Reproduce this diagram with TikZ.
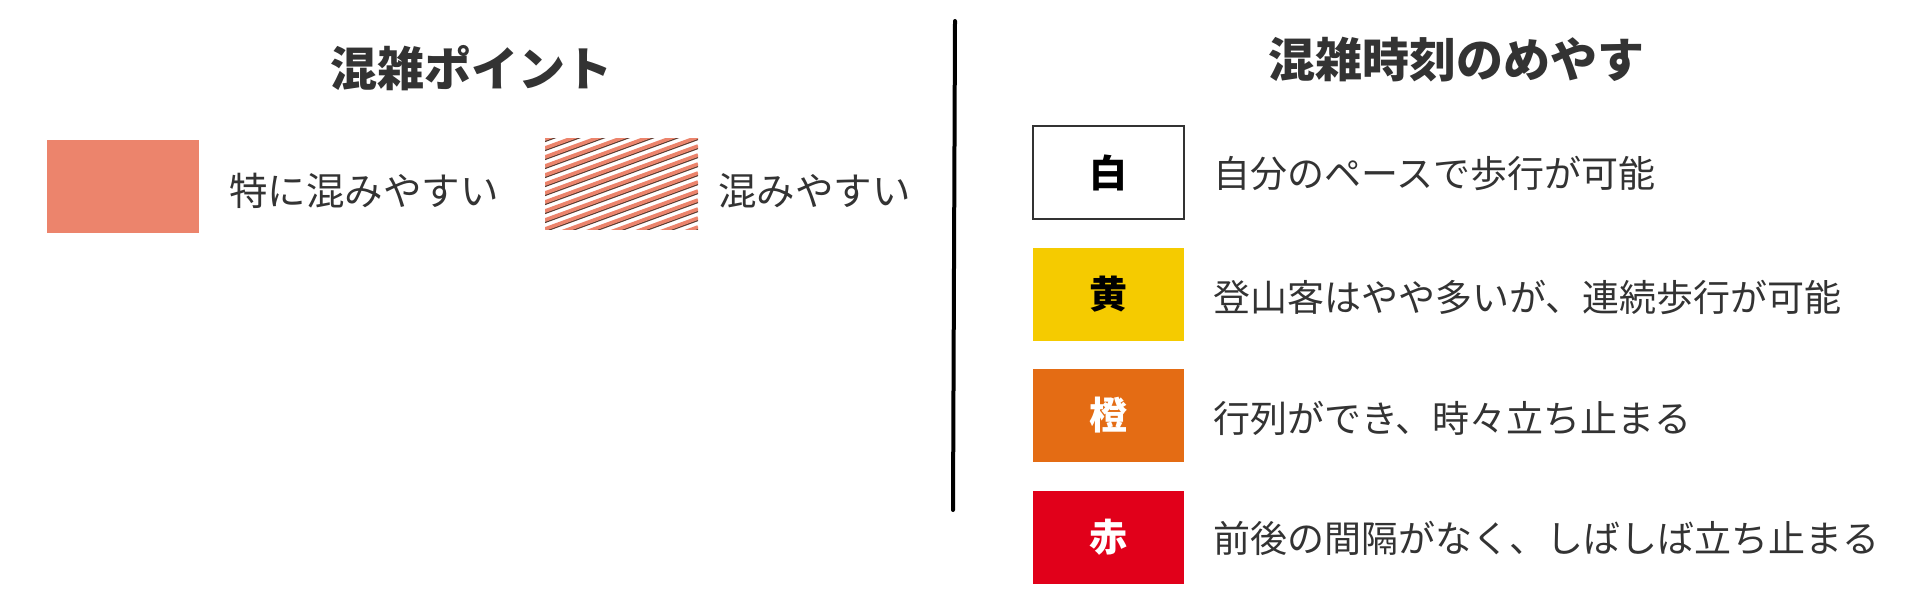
\documentclass[tikz,border=0pt]{standalone}
\usepackage{fontspec}
\newfontfamily\jp{Noto Sans CJK JP}
\definecolor{txt}{HTML}{333333}
\definecolor{salmon}{HTML}{EC846C}
\definecolor{hatchdark}{HTML}{5A3A30}
\definecolor{cyellow}{HTML}{F5CB00}
\definecolor{corange}{HTML}{E46C14}
\definecolor{cred}{HTML}{E1001A}
\begin{document}
\begin{tikzpicture}[x=1pt,y=-1pt,
  title/.style={font=\jp\bfseries\fontsize{47}{50}\selectfont, text=txt, inner sep=0pt},
  body/.style={font=\jp\fontsize{37}{40}\selectfont, text=txt, inner sep=0pt, anchor=west},
  lbody/.style={body, font=\jp\fontsize{38.5}{41}\selectfont},
  keybox/.style={minimum width=151pt, minimum height=93pt, inner sep=0pt, font=\jp\bfseries\fontsize{38}{40}\selectfont}
]
\useasboundingbox (0,0) rectangle (1911,609);
% left section
\node[title] (lt) at (471,68) {混雑ポイント};
\fill[salmon] (47,140) rectangle (199,233);
\node[lbody] (l1) at (229,191) {特に混みやすい};
\begin{scope}
  \clip (545,139) rectangle (698,230);
  \foreach \k in {0,...,17} {
    \pgfmathsetmacro{\yy}{139+9*\k}
    \draw[hatchdark, line width=1.4pt] (545,\yy+2.4) -- (698,\yy+2.4-56);
    \draw[salmon, line width=3.6pt] (545,\yy) -- (698,\yy-56);
  }
\end{scope}
\node[lbody] (l2) at (718,191) {混みやすい};
% divider
\coordinate (dtop) at (955,21);
\coordinate (dbot) at (953,510);
\draw[black, line width=4pt, line cap=round] (dtop) -- (dbot);
% right section
\node[title] (rt) at (1456,60) {混雑時刻のめやす};
\node[keybox, draw=black!80, line width=2pt, fill=white, text=black] (kw) at (1108,173) {白};
\node[keybox, fill=cyellow, text=black] (ky) at (1108,294.5) {黄};
\node[keybox, fill=corange, text=white] (ko) at (1108,415.5) {橙};
\node[keybox, fill=cred, text=white] (kr) at (1108,537.5) {赤};
\node[body] (r1) at (1213,173) {自分のペースで歩行が可能};
\node[body] (r2) at (1213,297) {登山客はやや多いが、連続歩行が可能};
\node[body] (r3) at (1213,418) {行列ができ、時々立ち止まる};
\node[body] (r4) at (1213,538) {前後の間隔がなく、しばしば立ち止まる};
\end{tikzpicture}
\end{document}
